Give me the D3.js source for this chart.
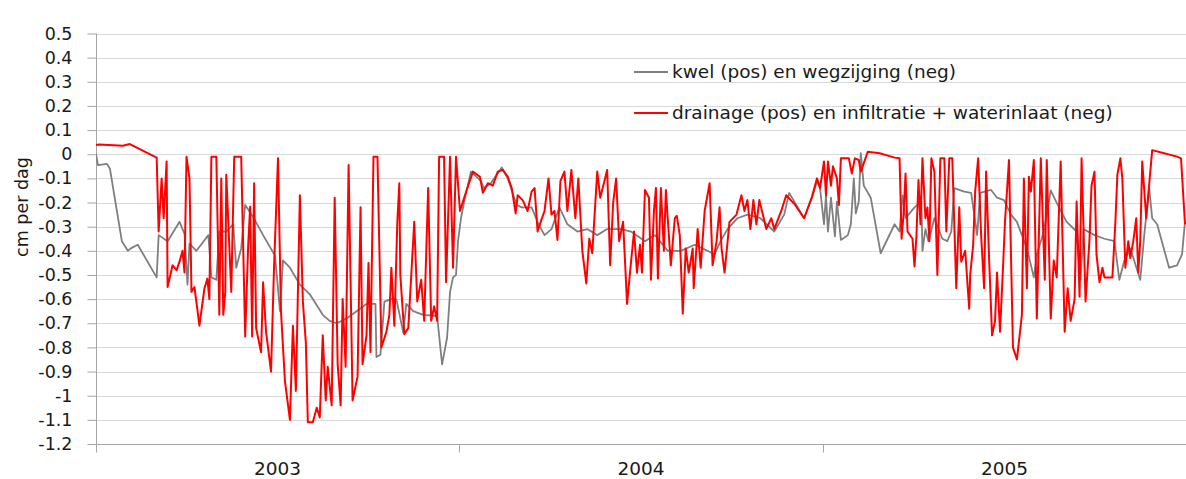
<!DOCTYPE html>
<html>
<head>
<meta charset="utf-8">
<script src="https://cdn.jsdelivr.net/npm/d3@7"></script>
<style>
  html, body { margin: 0; padding: 0; background: #ffffff; }
  svg { display: block; }
  text { font-family: "DejaVu Sans", sans-serif; fill: #1a1a1a; }
</style>
</head>
<body>
<svg id="chart" width="1186" height="479"></svg>
<script>
// ---- data (day offset from 2003-01-01, value in cm per dag) ----
const kwelDays = [0,2,11,14,26,32,35,42,61,63,72,84,89,92,94,101,113,116,121,124,131,138,141,146,150,158,168,180,185,188,195,205,215,228,235,242,252,262,272,281,282,286,290,297,302,309,312,319,329,343,348,353,356,359,362,364,367,370,377,387,390,397,408,414,423,428,438,445,451,458,466,474,484,494,504,514,528,538,552,562,575,588,602,615,622,628,635,645,655,668,682,692,697,712,720,725,728,732,734,736,739,743,745,749,756,759,762,764,767,769,772,779,789,803,808,811,814,823,830,831,834,837,843,851,856,860,863,873,880,886,889,900,906,913,920,926,931,936,943,946,953,960,967,976,986,990,993,1004,1014,1024,1029,1034,1040,1050,1054,1059,1062,1067,1079,1087,1092,1095];
const kwelValues = [0,-0.045,-0.04,-0.06,-0.36,-0.40,-0.39,-0.375,-0.51,-0.335,-0.36,-0.28,-0.33,-0.54,-0.37,-0.40,-0.335,-0.51,-0.52,-0.32,-0.32,-0.29,-0.47,-0.39,-0.21,-0.26,-0.335,-0.42,-0.65,-0.44,-0.47,-0.54,-0.58,-0.665,-0.69,-0.70,-0.68,-0.65,-0.62,-0.62,-0.84,-0.83,-0.61,-0.60,-0.60,-0.74,-0.62,-0.65,-0.665,-0.67,-0.87,-0.76,-0.57,-0.51,-0.50,-0.36,-0.265,-0.20,-0.072,-0.11,-0.14,-0.12,-0.055,-0.10,-0.21,-0.22,-0.22,-0.29,-0.335,-0.31,-0.22,-0.29,-0.32,-0.31,-0.335,-0.31,-0.31,-0.32,-0.36,-0.335,-0.40,-0.40,-0.375,-0.40,-0.415,-0.36,-0.31,-0.265,-0.25,-0.265,-0.32,-0.25,-0.16,-0.265,-0.18,-0.11,-0.14,-0.29,-0.17,-0.32,-0.18,-0.34,-0.196,-0.355,-0.335,-0.29,-0.10,-0.245,-0.196,0.005,-0.13,-0.18,-0.41,-0.29,-0.32,-0.17,-0.265,-0.22,-0.196,-0.40,-0.31,-0.36,-0.265,-0.35,-0.36,-0.32,-0.14,-0.155,-0.16,-0.335,-0.16,-0.148,-0.18,-0.19,-0.25,-0.28,-0.335,-0.39,-0.51,-0.415,-0.32,-0.15,-0.21,-0.28,-0.32,-0.52,-0.31,-0.335,-0.35,-0.36,-0.52,-0.44,-0.39,-0.52,-0.335,-0.14,-0.265,-0.29,-0.47,-0.46,-0.415,-0.28];

const drainDays = [0,3,27,34,61,63,66,68,71,72,77,81,84,87,89,91,94,96,99,104,109,112,114,116,121,124,126,128,130,131,136,139,146,150,153,155,157,159,161,166,168,171,176,179,183,186,190,195,198,201,205,208,211,213,218,222,225,228,231,233,237,240,243,246,248,251,254,258,263,266,268,272,274,276,279,283,287,292,295,297,300,303,305,306,310,314,320,323,327,330,334,337,340,343,345,350,352,356,359,362,366,371,379,386,389,394,399,404,409,414,418,422,424,429,432,434,438,441,444,448,451,455,458,461,464,467,471,474,478,482,485,489,493,496,499,504,507,514,517,520,523,526,530,534,538,541,544,547,549,552,556,558,561,563,565,568,571,573,578,582,584,587,590,593,596,600,601,605,608,612,617,620,624,627,629,632,637,644,649,652,655,658,661,664,667,674,679,682,689,694,703,712,720,725,728,732,734,736,739,741,745,747,749,757,760,763,767,769,776,788,803,808,810,812,814,816,821,823,825,827,829,831,834,836,838,840,843,846,849,853,855,858,861,865,868,870,874,878,879,882,884,887,890,893,895,898,901,904,906,909,912,914,918,922,926,931,933,936,938,940,943,946,950,954,956,960,963,966,970,974,977,980,984,986,989,991,995,999,1001,1004,1006,1009,1012,1014,1019,1022,1025,1027,1030,1032,1035,1038,1040,1043,1046,1048,1050,1052,1056,1062,1074,1087,1091,1095];
const drainValues = [0.038,0.04,0.035,0.042,-0.014,-0.32,-0.10,-0.265,-0.03,-0.55,-0.46,-0.48,-0.445,-0.40,-0.49,-0.01,-0.10,-0.57,-0.55,-0.71,-0.556,-0.515,-0.60,-0.01,-0.01,-0.665,-0.10,-0.665,-0.57,-0.085,-0.57,-0.01,-0.01,-0.755,-0.38,-0.217,-0.755,-0.12,-0.72,-0.82,-0.53,-0.735,-0.90,-0.47,-0.017,-0.65,-0.94,-1.10,-0.71,-0.98,-0.17,-0.61,-0.78,-1.11,-1.11,-1.05,-1.09,-0.75,-1.02,-0.88,-1.04,-0.18,-0.87,-1.04,-0.60,-0.88,-0.045,-1.02,-0.92,-0.22,-0.87,-0.75,-0.45,-0.82,-0.01,-0.01,-0.80,-0.735,-0.665,-0.47,-0.71,-0.28,-0.12,-0.50,-0.745,-0.72,-0.28,-0.61,-0.52,-0.69,-0.14,-0.69,-0.63,-0.69,-0.01,-0.01,-0.53,-0.01,-0.47,-0.01,-0.235,-0.17,-0.072,-0.093,-0.16,-0.12,-0.13,-0.072,-0.065,-0.093,-0.14,-0.245,-0.17,-0.19,-0.217,-0.235,-0.155,-0.14,-0.32,-0.27,-0.235,-0.10,-0.25,-0.235,-0.355,-0.11,-0.072,-0.235,-0.065,-0.265,-0.10,-0.40,-0.535,-0.35,-0.41,-0.072,-0.18,-0.065,-0.46,-0.20,-0.10,-0.36,-0.28,-0.62,-0.445,-0.32,-0.49,-0.375,-0.49,-0.148,-0.18,-0.52,-0.235,-0.14,-0.515,-0.14,-0.40,-0.148,-0.46,-0.265,-0.255,-0.335,-0.66,-0.39,-0.49,-0.39,-0.555,-0.31,-0.47,-0.235,-0.12,-0.46,-0.36,-0.22,-0.39,-0.49,-0.28,-0.25,-0.17,-0.235,-0.19,-0.31,-0.19,-0.29,-0.19,-0.31,-0.265,-0.31,-0.235,-0.17,-0.21,-0.265,-0.175,-0.10,-0.14,-0.03,-0.17,-0.03,-0.13,-0.05,-0.10,-0.21,-0.017,-0.017,-0.08,-0.017,-0.024,-0.072,0.01,0.004,-0.014,-0.017,-0.35,-0.25,-0.08,-0.32,-0.35,-0.465,-0.335,-0.107,-0.29,-0.017,-0.265,-0.22,-0.36,-0.017,-0.072,-0.50,-0.017,-0.017,-0.32,-0.017,-0.017,-0.555,-0.22,-0.445,-0.40,-0.64,-0.50,-0.375,-0.155,-0.017,-0.335,-0.555,-0.072,-0.43,-0.75,-0.69,-0.49,-0.735,-0.47,-0.28,-0.024,-0.80,-0.85,-0.665,-0.10,-0.555,-0.093,-0.155,-0.024,-0.68,-0.017,-0.52,-0.024,-0.68,-0.44,-0.51,-0.03,-0.735,-0.555,-0.69,-0.60,-0.196,-0.59,-0.017,-0.61,-0.35,-0.13,-0.072,-0.415,-0.53,-0.47,-0.51,-0.51,-0.51,-0.28,-0.085,-0.017,-0.10,-0.47,-0.36,-0.43,-0.36,-0.265,-0.49,-0.36,-0.03,-0.265,0.017,0.004,-0.01,-0.017,-0.29];

const yearLabels = ["2003", "2004", "2005"];
const yTickValues = [0.5,0.4,0.3,0.2,0.1,0,-0.1,-0.2,-0.3,-0.4,-0.5,-0.6,-0.7,-0.8,-0.9,-1,-1.1,-1.2];
const seriesNames = ["kwel (pos) en wegzijging (neg)", "drainage (pos) en infiltratie + waterinlaat (neg)"];
const yTitle = "cm per dag";

// ---- chart ----
(function () {
const svg = d3.select("#chart");
const pL = 96, pR = 1186, pT = 33.5, pB = 444;
const start = new Date(2003, 0, 1), end = new Date(2006, 0, 1);
const x = d3.scaleTime().domain([start, end]).range([pL, pR]);
const y = d3.scaleLinear().domain([-1.2, 0.5]).range([pB, pT]);
const dayToDate = d => d3.timeDay.offset(start, d);

// gridlines
svg.append("g").selectAll("line").data(yTickValues.filter(v => v > -1.2)).join("line")
  .attr("x1", pL).attr("x2", pR)
  .attr("y1", d => Math.round(y(d)) + 0.5).attr("y2", d => Math.round(y(d)) + 0.5)
  .attr("stroke", "#d9d9d9").attr("stroke-width", 1);

// y axis
const yAxis = d3.axisLeft(y).tickValues(yTickValues).tickSize(9).tickPadding(15)
  .tickFormat(d => String(+d.toFixed(1)));
const gy = svg.append("g").attr("transform", `translate(${pL + 0.5},0)`).call(yAxis);
gy.select(".domain").attr("stroke", "#a6a6a6").attr("d", `M0,${pT}V${pB + 7}`);
gy.selectAll(".tick line").attr("stroke", "#a6a6a6");
gy.selectAll(".tick text").attr("font-size", 17.5).attr("font-family", "DejaVu Sans").attr("fill", "#1a1a1a");

// x axis (year boundaries as ticks, labels centred in each year)
const yearStarts = d3.timeYear.range(start, end);
const gx = svg.append("g").attr("transform", `translate(0,${Math.round(pB) + 0.5})`);
gx.append("line").attr("x1", pL).attr("x2", pR).attr("stroke", "#a6a6a6");
gx.selectAll("line.tk").data(yearStarts).join("line").attr("class", "tk")
  .attr("x1", d => Math.round(x(d)) + 0.5).attr("x2", d => Math.round(x(d)) + 0.5)
  .attr("y1", 0).attr("y2", 8).attr("stroke", "#a6a6a6");
gx.selectAll("text").data(yearStarts).join("text")
  .attr("x", d => (x(d) + x(d3.timeYear.offset(d, 1))) / 2)
  .attr("y", 24).attr("dy", "0.35em")
  .attr("text-anchor", "middle").attr("font-size", 18.5)
  .text((d, i) => yearLabels[i]);

// y title
svg.append("text").attr("transform", "translate(22,207) rotate(-90)")
  .attr("text-anchor", "middle").attr("dy", "0.35em").attr("font-size", 17.5).text(yTitle);

// lines
const line = d3.line().x(d => x(dayToDate(d[0]))).y(d => y(d[1]));
const kwel = kwelDays.map((d, i) => [d, kwelValues[i]]);
const drain = drainDays.map((d, i) => [d, drainValues[i]]);
svg.append("clipPath").attr("id", "clip").append("rect")
  .attr("x", pL).attr("y", 0).attr("width", pR - pL).attr("height", 479);
svg.append("path").datum(kwel).attr("d", line).attr("fill", "none")
  .attr("stroke", "#7f7f7f").attr("stroke-width", 1.8).attr("stroke-linejoin", "round")
  .attr("clip-path", "url(#clip)");
svg.append("path").datum(drain).attr("d", line).attr("fill", "none")
  .attr("stroke", "#ff0000").attr("stroke-width", 2).attr("stroke-linejoin", "round")
  .attr("clip-path", "url(#clip)");

// legend
const legendColors = ["#7f7f7f", "#ff0000"];
const lg = svg.append("g");
seriesNames.forEach((name, i) => {
  const ly = 72 + i * 41;
  lg.append("line").attr("x1", 634).attr("x2", 668).attr("y1", ly).attr("y2", ly)
    .attr("stroke", legendColors[i]).attr("stroke-width", 1.8);
  lg.append("text").attr("x", 672).attr("y", ly).attr("dy", "0.35em")
    .attr("font-size", 18.5).text(name);
});
})();
</script>
</body>
</html>
